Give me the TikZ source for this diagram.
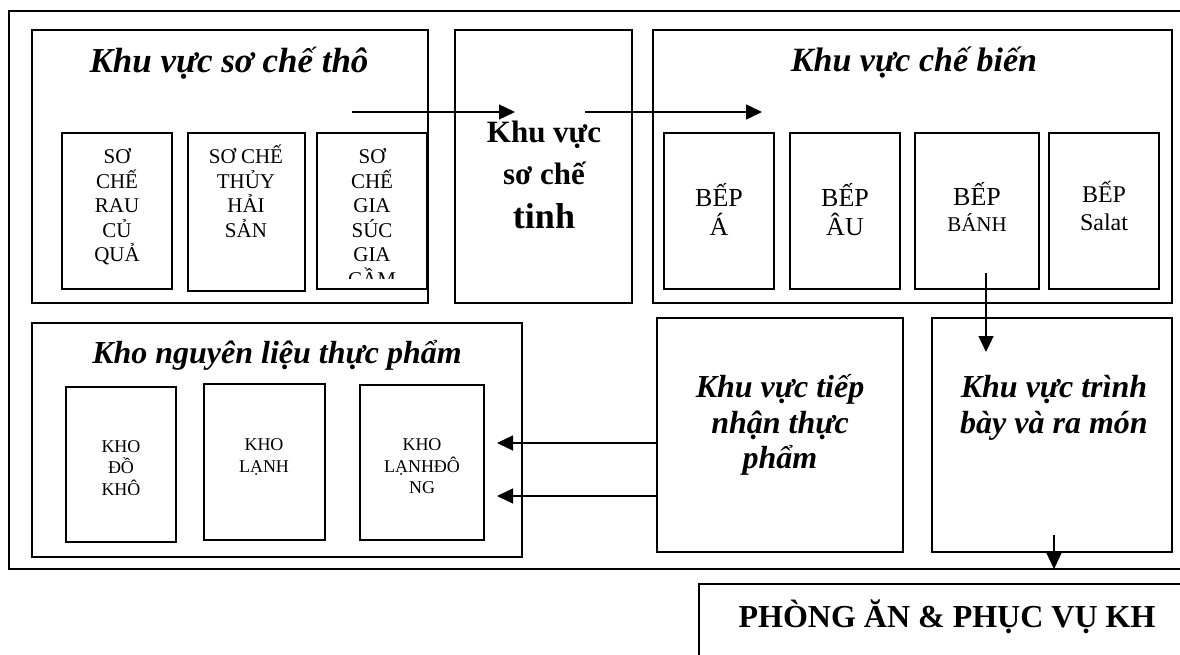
\documentclass[tikz,border=0pt]{standalone}
\usepackage{fontspec}
\setmainfont{Liberation Serif}
\usetikzlibrary{arrows.meta}
\begin{document}
\begin{tikzpicture}[x=1pt,y=-1pt,
  box/.style={draw, line width=1.3pt, inner sep=0pt, outer sep=0pt, anchor=north west},
  ttl/.style={anchor=base, inner sep=0pt, font=\fontsize{32}{38}\selectfont\bfseries\itshape},
  tinhtxt/.style={anchor=base, inner sep=0pt, font=\fontsize{31}{38}\selectfont\bfseries},
  subtxt/.style={anchor=base, inner sep=0pt, font=\fontsize{21}{25}\selectfont},
  khotxt/.style={anchor=base, inner sep=0pt, font=\fontsize{18}{22}\selectfont},
  beptxt/.style={anchor=base, inner sep=0pt, font=\fontsize{26}{30}\selectfont},
  flow/.style={line width=1.3pt, -{Triangle[length=16pt,width=15pt]}}]
\useasboundingbox (0,0) rectangle (1180,655);
\clip (0,0) rectangle (1180,655);
\fill[white] (0,0) rectangle (1180,655);

% outer frame
\node[box, line width=1.4pt, minimum width=1181pt, minimum height=558pt] (outer) at (9,11) {};

% Khu vuc so che tho
\node[box, minimum width=396pt, minimum height=273pt] (tho) at (32,30) {};
\node[box, minimum width=110pt, minimum height=156pt] (r1) at (62,133) {};
\node[box, minimum width=117pt, minimum height=158pt] (r2) at (188,133) {};
\node[box, minimum width=110pt, minimum height=156pt] (r3) at (317,133) {};
\node[ttl, font=\fontsize{35}{40}\selectfont\bfseries\itshape] (thoT) at (229,73) {Khu vực sơ chế thô};
\foreach \t [count=\i] in {SƠ,CHẾ,RAU,CỦ,QUẢ}
  \node[subtxt] (r1t\i) at (117,{163.5+24.6*(\i-1)}) {\t};
\foreach \t [count=\i] in {SƠ CHẾ,THỦY,HẢI,SẢN}
  \node[subtxt] (r2t\i) at (246,{163.5+24.6*(\i-1)}) {\t};
\begin{scope}
  \clip (318,134) rectangle (426,278);
  \foreach \t [count=\i] in {SƠ,CHẾ,GIA,SÚC,GIA,CẦM}
    \node[subtxt] (r3t\i) at (372,{163.5+24.6*(\i-1)}) {\t};
\end{scope}

% Khu vuc so che tinh
\node[box, minimum width=177pt, minimum height=273pt] (tinh) at (455,30) {};
\node[tinhtxt] (tinhA) at (544,143) {Khu vực};
\node[tinhtxt] (tinhB) at (544,185) {sơ chế};
\node[tinhtxt, font=\fontsize{36}{40}\selectfont\bfseries] (tinhC) at (544,228) {tinh};

% Khu vuc che bien
\node[box, minimum width=519pt, minimum height=273pt] (bien) at (653,30) {};
\node[ttl, font=\fontsize{34}{40}\selectfont\bfseries\itshape] (bienT) at (914,72) {Khu vực chế biến};
\node[box, minimum width=110pt, minimum height=156pt] (b1) at (664,133) {};
\node[box, minimum width=110pt, minimum height=156pt] (b2) at (790,133) {};
\node[box, minimum width=124pt, minimum height=156pt] (b3) at (915,133) {};
\node[box, minimum width=110pt, minimum height=156pt] (b4) at (1049,133) {};
\node[beptxt] (b1a) at (719,207) {BẾP};
\node[beptxt] (b1b) at (719,235) {Á};
\node[beptxt] (b2a) at (845,207) {BẾP};
\node[beptxt] (b2b) at (845,235) {ÂU};
\node[beptxt] (b3a) at (977,205) {BẾP};
\node[beptxt, font=\fontsize{21}{25}\selectfont] (b3b) at (977,231) {BÁNH};
\node[beptxt, font=\fontsize{24}{28}\selectfont] (b4a) at (1104,203) {BẾP};
\node[beptxt, font=\fontsize{24}{28}\selectfont] (b4b) at (1104,230) {Salat};

% Kho nguyen lieu thuc pham
\node[box, minimum width=490pt, minimum height=234pt] (kho) at (32,323) {};
\node[ttl] (khoT) at (277,363) {Kho nguyên liệu thực phẩm};
\node[box, minimum width=110pt, minimum height=155pt] (k1) at (66,387) {};
\node[box, minimum width=121pt, minimum height=156pt] (k2) at (204,384) {};
\node[box, minimum width=124pt, minimum height=155pt] (k3) at (360,385) {};
\node[khotxt] (k1a) at (121,452) {KHO};
\node[khotxt] (k1b) at (121,473) {ĐỒ};
\node[khotxt] (k1c) at (121,495) {KHÔ};
\node[khotxt] (k2a) at (264,450) {KHO};
\node[khotxt] (k2b) at (264,472) {LẠNH};
\node[khotxt] (k3a) at (422,450) {KHO};
\node[khotxt] (k3b) at (422,472) {LẠNHĐÔ};
\node[khotxt] (k3c) at (422,493) {NG};

% Khu vuc tiep nhan
\node[box, minimum width=246pt, minimum height=234pt] (tiep) at (657,318) {};
\node[ttl] (tiepA) at (780,397) {Khu vực tiếp};
\node[ttl] (tiepB) at (780,433) {nhận thực};
\node[ttl] (tiepC) at (780,468) {phẩm};

% Khu vuc trinh bay
\node[box, minimum width=240pt, minimum height=234pt] (trinh) at (932,318) {};
\node[ttl] (trinhA) at (1054,397) {Khu vực trình};
\node[ttl] (trinhB) at (1054,433) {bày và ra món};

% Phong an
\node[box, minimum width=520pt, minimum height=120pt] (phong) at (699,584) {};
\node[ttl, font=\fontsize{32}{38}\selectfont\bfseries] (phongT) at (947,627) {PHÒNG ĂN \& PHỤC VỤ KH};

% connectors
\coordinate (c1s) at (352,112);
\coordinate (c1e) at (515,112);
\coordinate (c2s) at (585,112);
\coordinate (c2e) at (762,112);
\coordinate (c3s) at (986,273);
\coordinate (c3e) at (986,352);
\coordinate (c4e) at (497,443);
\coordinate (c5e) at (497,496);
\coordinate (c6s) at (1054,535);
\coordinate (c6e) at (1054,569);
\draw[flow] (c1s) -- (c1e);
\draw[flow] (c2s) -- (c2e);
\draw[flow] (c3s) -- (c3e);
\draw[flow] (tiep.west |- c4e) -- (c4e);
\draw[flow] (tiep.west |- c5e) -- (c5e);
\draw[flow] (c6s) -- (c6e);
\end{tikzpicture}
\end{document}
